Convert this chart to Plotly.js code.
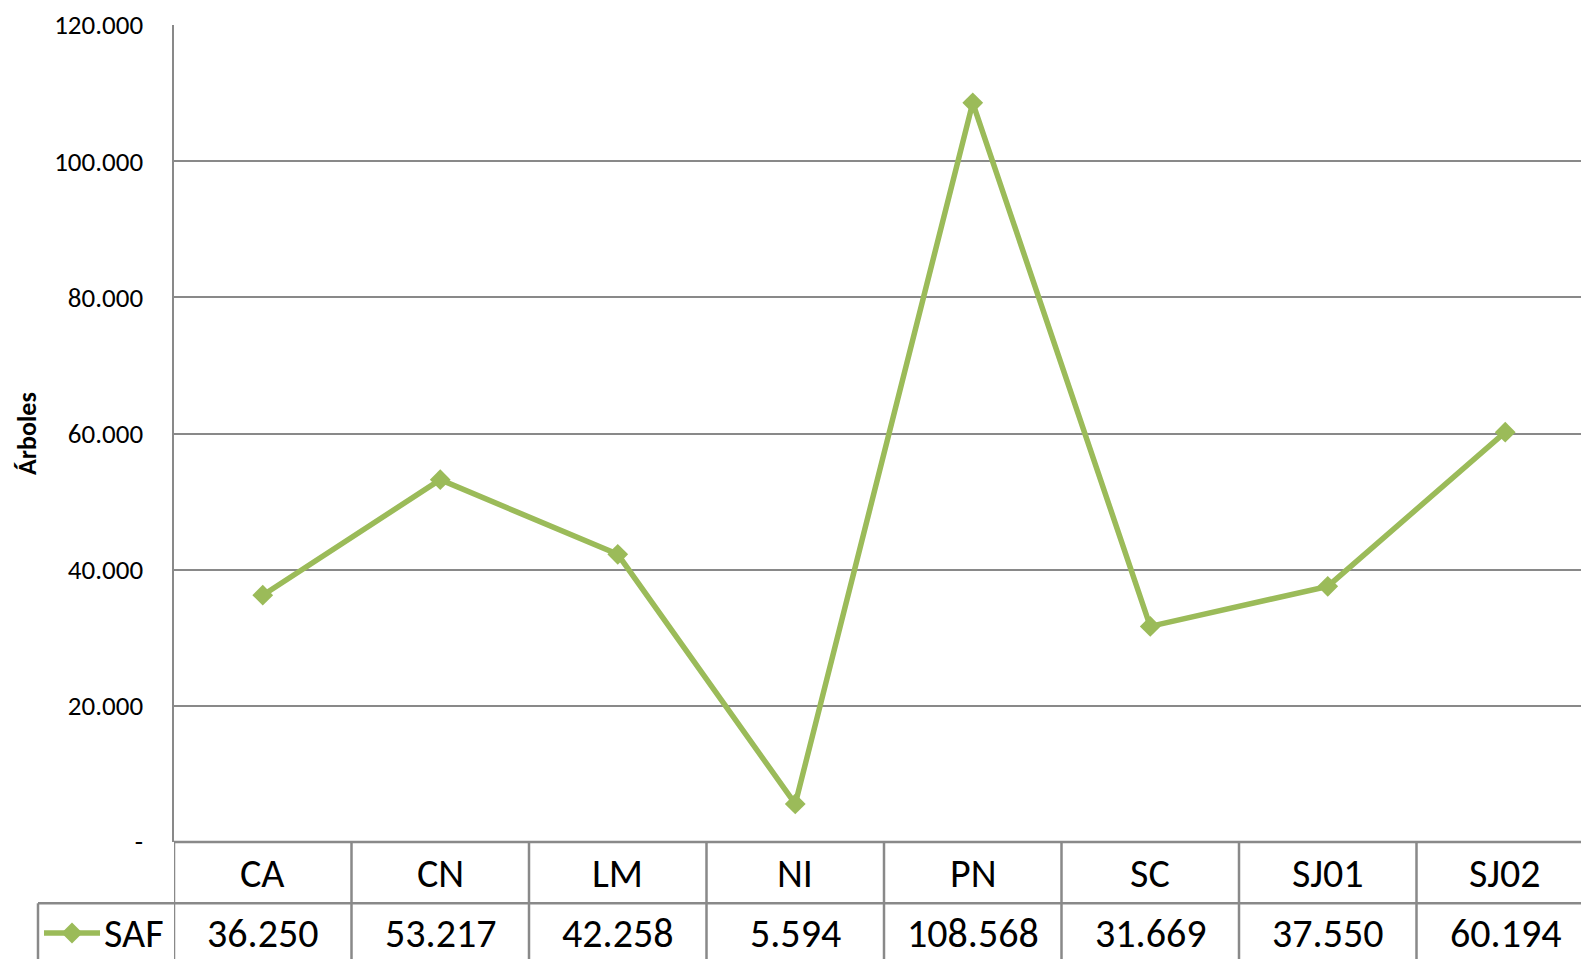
<!DOCTYPE html>
<html>
<head>
<meta charset="utf-8">
<script src="https://cdn.plot.ly/plotly-3.0.1.min.js"></script>
<style>
  html, body { margin: 0; padding: 0; overflow: hidden; background: #fff; }
  #chart { width: 1600px; height: 959px; }
</style>
</head>
<body>
<div id="chart"></div>
<script>
// ---- data ----
const categories = ['CA', 'CN', 'LM', 'NI', 'PN', 'SC', 'SJ01', 'SJ02'];
const safValues = [36250, 53217, 42258, 5594, 108568, 31669, 37550, 60194];
const seriesName = 'SAF';
const yTickVals = [0, 20000, 40000, 60000, 80000, 100000, 120000];
const yTickText = ['-', '20.000', '40.000', '60.000', '80.000', '100.000', '120.000'];
const yTitle = 'Árboles';

// ---- style / geometry ----
const FONT = 'Carlito, Lato, "Open Sans", sans-serif';
const GREEN = '#9BBB59';
const GRID = '#898989';
const W = 1600, H = 959;
const M = {l: 174, r: 6, t: 25, b: 117};
const plotW = W - M.l - M.r;
const plotH = H - M.t - M.b;
const px2y = p => -(p - (H - M.b)) / plotH;   // page pixel y -> paper y
const px2x = p => (p - M.l) / plotW;          // page pixel x -> paper x

function fmt(n) {
  return String(n).replace(/\B(?=(\d{3})+(?!\d))/g, '.');
}

const row1Bottom = px2y(903.3);
const row2Bottom = px2y(975);
const row1Mid = px2y(873);
const row2Mid = px2y(933);
const tableLeft = px2x(38);
const TABLE_SIZE = 40;

const shapes = [];
const lineStyle = {color: GRID, width: 2.5};
// vertical separators through both table rows
for (let i = 0; i <= categories.length; i++) {
  shapes.push({type: 'line', xref: 'x', yref: 'paper', x0: i - 0.5, x1: i - 0.5,
    y0: 0, y1: row2Bottom, line: lineStyle, layer: 'above'});
}
// horizontal line between category row and data row
shapes.push({type: 'line', xref: 'paper', yref: 'paper', x0: tableLeft, x1: 1.01,
  y0: row1Bottom, y1: row1Bottom, line: lineStyle});
// left border of data row
shapes.push({type: 'line', xref: 'paper', yref: 'paper', x0: tableLeft, x1: tableLeft,
  y0: row1Bottom, y1: row2Bottom, line: lineStyle});
// bottom axis line
shapes.push({type: 'line', xref: 'paper', yref: 'paper', x0: 0, x1: 1.01,
  y0: 0, y1: 0, line: lineStyle});
// legend key: line + diamond
shapes.push({type: 'line', xref: 'paper', yref: 'paper', x0: px2x(44), x1: px2x(100),
  y0: row2Mid, y1: row2Mid, line: {color: GREEN, width: 5.5}});
shapes.push({type: 'path', xref: 'paper', yref: 'paper', xsizemode: 'pixel', ysizemode: 'pixel',
  xanchor: px2x(72), yanchor: row2Mid,
  path: 'M -10.5 0 L 0 10.5 L 10.5 0 L 0 -10.5 Z',
  fillcolor: GREEN, line: {color: GREEN, width: 0}});

const annotations = [];
categories.forEach((c, i) => {
  annotations.push({x: i, xref: 'x', y: row1Mid, yref: 'paper', text: c, showarrow: false,
    xanchor: 'center', yanchor: 'middle', font: {family: FONT, size: TABLE_SIZE, color: '#000'}});
  annotations.push({x: i, xref: 'x', y: row2Mid, yref: 'paper', text: fmt(safValues[i]), showarrow: false,
    xanchor: 'center', yanchor: 'middle', font: {family: FONT, size: TABLE_SIZE, color: '#000'}});
});
annotations.push({x: px2x(102), xref: 'paper', y: row2Mid, yref: 'paper', text: seriesName,
  showarrow: false, xanchor: 'left', yanchor: 'middle', font: {family: FONT, size: TABLE_SIZE, color: '#000'}});
annotations.push({x: px2x(27), xref: 'paper', y: px2y(434), yref: 'paper', text: '<b>' + yTitle + '</b>',
  showarrow: false, textangle: -90, xanchor: 'center', yanchor: 'middle',
  font: {family: FONT, size: 26, color: '#000'}});

const trace = {
  type: 'scatter', mode: 'lines+markers', name: seriesName,
  x: categories.map((c, i) => i), y: safValues,
  line: {color: GREEN, width: 5.5},
  marker: {symbol: 'diamond', size: 16, color: GREEN},
  cliponaxis: false, hoverinfo: 'skip'
};

const layout = {
  width: W, height: H,
  margin: M,
  paper_bgcolor: '#fff', plot_bgcolor: '#fff',
  showlegend: false,
  font: {family: FONT, color: '#000'},
  xaxis: {range: [-0.5, 7.5], showticklabels: false, showgrid: false, zeroline: false,
    showline: false, ticks: '', fixedrange: true},
  yaxis: {range: [0, 120000], tickvals: yTickVals, ticktext: yTickText,
    showgrid: true, gridcolor: GRID, gridwidth: 2, zeroline: false,
    showline: true, linecolor: GRID, linewidth: 2.5, ticks: '',
    ticklabelstandoff: 23, tickfont: {family: FONT, size: 27, color: '#000'}, fixedrange: true},
  shapes: shapes,
  annotations: annotations
};

Plotly.newPlot('chart', [trace], layout, {displayModeBar: false, staticPlot: true});
</script>
</body>
</html>
